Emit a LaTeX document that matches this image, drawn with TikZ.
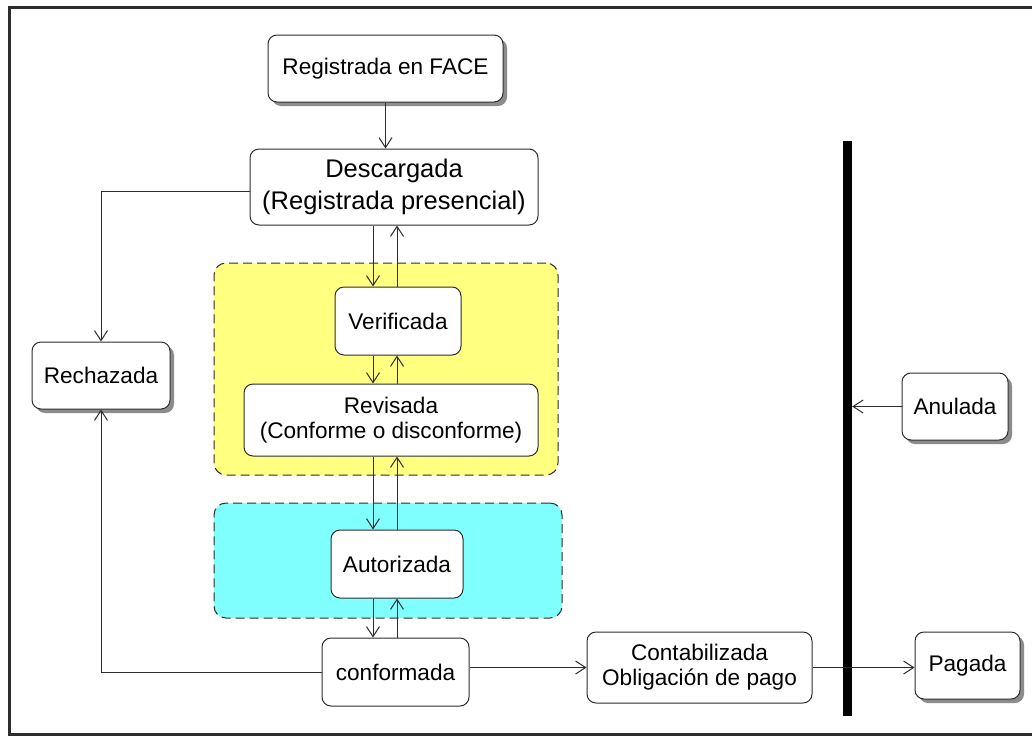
\documentclass[tikz,border=0pt]{standalone}
\usepackage{fontspec}
\setmainfont{Liberation Sans}
\usetikzlibrary{arrows.meta}
\usetikzlibrary{shadows}
\definecolor{linecol}{RGB}{45,45,45}
\definecolor{grpyellow}{RGB}{255,255,128}
\definecolor{grpcyan}{RGB}{128,255,255}
\tikzset{
    stbox/.style={draw=linecol, line width=1pt, rounded corners=9pt, fill=white, align=center, inner sep=0pt, font=\fontsize{22.6}{25}\selectfont},
    shadowed/.style={drop shadow={shadow xshift=4pt, shadow yshift=-4pt, fill=black!45, opacity=1}},
    grp/.style={draw=linecol, line width=1pt, dash pattern=on 9pt off 5pt, rounded corners=12pt},
    flow/.style={draw=linecol, line width=1pt, -{Straight Barb[length=10pt,width=13pt]}},
}

\begin{document}
\begin{tikzpicture}[x=1pt, y=-1pt]
        \useasboundingbox (0,0) rectangle (1032,737);
        \fill[white] (0,0) rectangle (1032,737);
        \draw[linecol, line width=3pt] (1032,7.5) -| (9.5,734) -- (1032,734);

        \node[grp, fill=grpyellow, minimum width=344pt, minimum height=212pt] (grpY) at (386,369)   {};
        \node[grp, fill=grpcyan,   minimum width=348pt, minimum height=115pt] (grpC) at (388,560.5) {};

        \node[stbox, shadowed, minimum width=235pt, minimum height=67pt] (face)  at (385.5,68.5)  {Registrada en FACE};
        \node[stbox, minimum width=288pt, minimum height=76pt, font=\fontsize{25.5}{31.7}\selectfont] (desc) at (394,187) {Descargada\\(Registrada presencial)};
        \node[stbox, minimum width=126pt, minimum height=68pt] (verif) at (398,321)     {Verificada};
        \node[stbox, minimum width=294pt, minimum height=72pt] (revis) at (391,420)     {Revisada\\(Conforme o disconforme)};
        \node[stbox, minimum width=132pt, minimum height=68pt] (autor) at (397,564)     {Autorizada};
        \node[stbox, minimum width=147pt, minimum height=68pt] (conf)  at (395.5,672)   {conformada};
        \node[stbox, minimum width=225pt, minimum height=71pt] (conta) at (699.5,667.5) {Contabilizada\\Obligación de pago};
        \node[stbox, shadowed, minimum width=138pt, minimum height=67pt] (rech) at (101,375.5)   {Rechazada};
        \node[stbox, shadowed, minimum width=106pt, minimum height=67pt] (anul) at (955,406.5)   {Anulada};
        \node[stbox, shadowed, minimum width=105pt, minimum height=67pt] (pag)  at (967.5,665.5) {Pagada};

        \node[fill=black, inner sep=0pt, minimum width=9pt, minimum height=575pt] (bar) at (847.5,428.5) {};

        \coordinate (dn) at (373,0);
        \coordinate (up) at (397,0);

        \draw[flow] (face.south) -- (face.south |- desc.north);
        \draw[flow] ([yshift=-4pt]desc.west) -| (rech.north);
        \draw[flow] (desc.south -| dn) -- (verif.north -| dn);
        \draw[flow] (verif.north -| up) -- (desc.south -| up);
        \draw[flow] (verif.south -| dn) -- (revis.north -| dn);
        \draw[flow] (revis.north -| up) -- (verif.south -| up);
        \draw[flow] (revis.south -| dn) -- (autor.north -| dn);
        \draw[flow] (autor.north -| up) -- (revis.south -| up);
        \draw[flow] (autor.south -| dn) -- (conf.north -| dn);
        \draw[flow] (conf.north -| up) -- (autor.south -| up);
        \draw[flow] (conf.west) -| (rech.south);
        \draw[flow] (conf.east |- conta.west) -- (conta.west);
        \draw[flow] (conta.east) -- (conta.east -| pag.west);
        \draw[flow] (anul.west) -- (anul.west -| bar.east);
\end{tikzpicture}
\end{document}
